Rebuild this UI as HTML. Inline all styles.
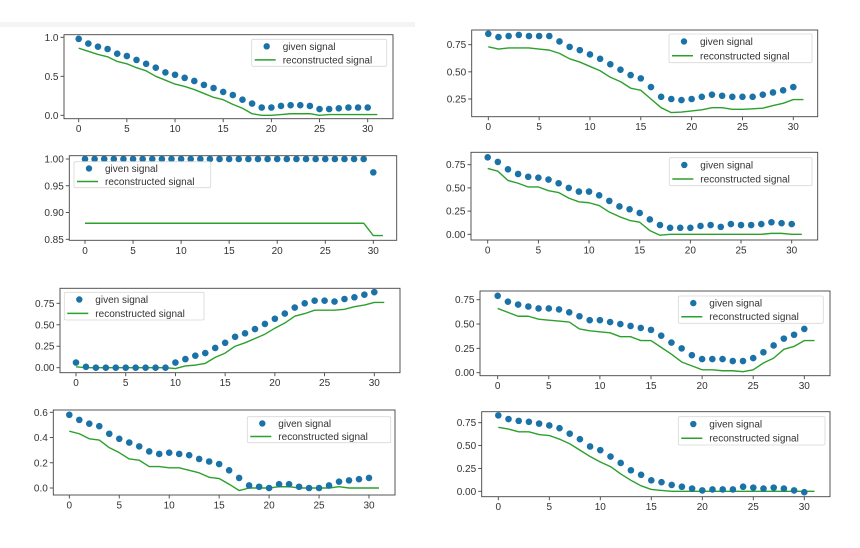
<!DOCTYPE html>
<html><head><meta charset="utf-8"><style>
html,body{margin:0;padding:0;background:#fff;}
svg{display:block;font-family:"Liberation Sans","DejaVu Sans",sans-serif;}
</style></head><body>
<svg id="fig" width="860" height="548" viewBox="0 0 860 548" xmlns="http://www.w3.org/2000/svg">
<rect x="0" y="0" width="860" height="548" fill="#fff"/>
<rect x="0" y="22" width="415" height="5" fill="#f4f4f4"/>
</svg>
<script>
// ---- data ----
const xTicks = [0,5,10,15,20,25,30];
const given1 = [0.98,0.92,0.88,0.85,0.79,0.76,0.71,0.66,0.61,0.55,0.52,0.48,0.44,0.39,0.35,0.30,0.26,0.20,0.15,0.10,0.10,0.12,0.13,0.13,0.12,0.08,0.08,0.09,0.10,0.10,0.10];
const recon1 = [0.86,0.82,0.78,0.75,0.69,0.66,0.61,0.57,0.50,0.45,0.40,0.37,0.33,0.28,0.23,0.20,0.14,0.09,0.02,0.00,0.00,0.01,0.02,0.02,0.02,0.00,0.01,0.01,0.01,0.01,0.01,0.01];
const ticks1 = ["0.0","0.5","1.0"];
const given2 = [0.85,0.82,0.83,0.84,0.83,0.83,0.83,0.78,0.73,0.70,0.66,0.62,0.57,0.52,0.47,0.44,0.36,0.27,0.25,0.24,0.25,0.27,0.29,0.28,0.27,0.27,0.27,0.29,0.31,0.33,0.36];
const recon2 = [0.73,0.71,0.72,0.72,0.72,0.71,0.70,0.67,0.62,0.59,0.55,0.51,0.45,0.41,0.35,0.33,0.25,0.17,0.125,0.13,0.14,0.15,0.17,0.17,0.155,0.155,0.16,0.165,0.19,0.21,0.245,0.245];
const ticks2 = ["0.25","0.50","0.75"];
const given3 = [1,1,1,1,1,1,1,1,1,1,1,1,1,1,1,1,1,1,1,1,1,1,1,1,1,1,1,1,1,1,0.975];
const recon3 = [0.88,0.88,0.88,0.88,0.88,0.88,0.88,0.88,0.88,0.88,0.88,0.88,0.88,0.88,0.88,0.88,0.88,0.88,0.88,0.88,0.88,0.88,0.88,0.88,0.88,0.88,0.88,0.88,0.88,0.88,0.857,0.857];
const ticks3 = ["0.85","0.90","0.95","1.00"];
const given4 = [0.83,0.78,0.70,0.65,0.62,0.61,0.59,0.55,0.50,0.46,0.46,0.42,0.36,0.30,0.27,0.23,0.16,0.10,0.07,0.07,0.07,0.09,0.10,0.08,0.11,0.10,0.10,0.11,0.13,0.12,0.11];
const recon4 = [0.71,0.68,0.58,0.55,0.51,0.51,0.47,0.45,0.39,0.35,0.34,0.31,0.24,0.19,0.15,0.13,0.04,-0.01,0,0,0,0,0,0,0,0,0,0,0.01,0.01,0,0];
const ticks4 = ["0.00","0.25","0.50","0.75"];
const given5 = [0.06,0.01,0,0,0,0,0,0,0,0,0.06,0.10,0.14,0.17,0.23,0.29,0.36,0.40,0.45,0.51,0.57,0.63,0.70,0.75,0.78,0.78,0.77,0.80,0.82,0.85,0.88];
const recon5 = [0.01,0,0,0,0,0,0,0,0,0,-0.01,0.02,0.03,0.05,0.12,0.17,0.25,0.29,0.34,0.39,0.46,0.52,0.60,0.63,0.67,0.67,0.67,0.68,0.71,0.73,0.76,0.76];
const ticks5 = ["0.00","0.25","0.50","0.75"];
const given6 = [0.79,0.73,0.70,0.68,0.66,0.66,0.65,0.62,0.58,0.54,0.54,0.52,0.50,0.48,0.46,0.44,0.38,0.31,0.25,0.18,0.14,0.14,0.14,0.12,0.12,0.15,0.21,0.28,0.35,0.39,0.45];
const recon6 = [0.66,0.62,0.58,0.58,0.55,0.54,0.53,0.52,0.45,0.43,0.42,0.41,0.37,0.37,0.33,0.33,0.26,0.19,0.11,0.07,0.03,0.03,0.02,0.02,0.01,0.03,0.10,0.15,0.24,0.27,0.33,0.33];
const ticks6 = ["0.00","0.25","0.50","0.75"];
const given7 = [0.58,0.54,0.51,0.49,0.43,0.39,0.36,0.33,0.29,0.27,0.28,0.27,0.26,0.23,0.21,0.19,0.14,0.08,0.02,0.01,0.00,0.03,0.03,0.01,0,0,0.02,0.05,0.06,0.07,0.08];
const recon7 = [0.45,0.43,0.39,0.38,0.32,0.28,0.23,0.22,0.17,0.17,0.16,0.16,0.14,0.12,0.085,0.075,0.03,-0.02,0,0,0,0.01,0.01,0,0,0,0,0.01,0,0,0,0];
const ticks7 = ["0.0","0.2","0.4","0.6"];
const given8 = [0.83,0.79,0.77,0.76,0.74,0.72,0.69,0.63,0.57,0.49,0.45,0.38,0.31,0.23,0.18,0.12,0.10,0.07,0.05,0.03,0.01,0.02,0.02,0.02,0.05,0.04,0.03,0.04,0.03,0.01,-0.01];
const recon8 = [0.70,0.68,0.65,0.65,0.62,0.61,0.57,0.52,0.45,0.38,0.32,0.27,0.19,0.12,0.06,0.02,0.01,0,0,0,0,0,0,0,0,0,0,0,0,0,0,0];
const ticks8 = ["0.00","0.25","0.50","0.75"];

// ---- layout (pixel geometry, not data) ----
const layouts = [
 {g:given1,r:recon1,t:ticks1,L:64,R:393,T:34.7,B:118.7,x0:78.7,x30:367.7,ya:[0,115.3],yb:[1,37.3],lg:[251.7,39.3,135,27]},
 {g:given2,r:recon2,t:ticks2,L:471.7,R:817.7,T:30,B:116.7,x0:488.3,x30:793.3,ya:[0.25,99],yb:[0.75,44.7],lg:[669,34,143,28.7]},
 {g:given3,r:recon3,t:ticks3,L:69.3,R:396.7,T:155.7,B:240.3,x0:85,x30:373.3,ya:[0.85,239.3],yb:[1,159],lg:[74,161.7,136.7,26]},
 {g:given4,r:recon4,t:ticks4,L:471,R:817.7,T:152.3,B:240,x0:487.7,x30:791.7,ya:[0,234.3],yb:[0.75,164.7],lg:[669.3,157.7,142.7,28]},
 {g:given5,r:recon5,t:ticks5,L:60,R:400,T:288.3,B:372.7,x0:76,x30:374.3,ya:[0,367.7],yb:[0.75,303.3],lg:[64.3,292.3,139.7,27.7]},
 {g:given6,r:recon6,t:ticks6,L:480,R:830,T:291,B:375.7,x0:497.7,x30:804.3,ya:[0,372.7],yb:[0.75,299.7],lg:[678.3,296,145,27.3]},
 {g:given7,r:recon7,t:ticks7,L:53.3,R:395,T:410,B:495,x0:69.3,x30:369,ya:[0,488],yb:[0.6,412.3],lg:[247.3,416.7,143.4,26]},
 {g:given8,r:recon8,t:ticks8,L:481.7,R:830,T:411.7,B:496.7,x0:498.3,x30:804.3,ya:[0,491.3],yb:[0.75,422.7],lg:[678.3,416.7,146.7,28.3]}
];

const NS = "http://www.w3.org/2000/svg";
const svg = document.getElementById('fig');
function mk(tag, attrs, parent){
  const e = document.createElementNS(NS, tag);
  for (const k in attrs) e.setAttribute(k, attrs[k]);
  (parent||svg).appendChild(e);
  return e;
}
const defs = mk('defs', {});
const BLUE = "#1a72a6", GREEN = "#2ca02c", INK = "#333";

layouts.forEach((p, i) => {
  const n = i + 1;
  const xs = v => p.x0 + (p.x30 - p.x0) * v / 30;
  const ys = v => p.ya[1] + (p.yb[1] - p.ya[1]) * (v - p.ya[0]) / (p.yb[0] - p.ya[0]);
  const grp = mk('g', {});
  
  

  const cp = mk('clipPath', {id: 'clip' + n}, defs);
  mk('rect', {x: p.L, y: p.T, width: p.R - p.L, height: p.B - p.T}, cp);

  const bg = mk('rect', {x: p.L, y: p.T, width: p.R - p.L, height: p.B - p.T, fill: '#fff'}, grp);
  
  

  const plot = mk('g', {'clip-path': 'url(#clip' + n + ')'}, grp);
  const d = p.r.map((v, k) => (k ? 'L' : 'M') + xs(k).toFixed(2) + ' ' + ys(v).toFixed(2)).join(' ');
  const line = mk('path', {d: d, fill: 'none', stroke: GREEN, 'stroke-width': 1.4, 'stroke-linejoin': 'round'}, plot);
  
  
  p.g.forEach((v, k) => {
    const c = mk('circle', {cx: xs(k).toFixed(2), cy: ys(v).toFixed(2), r: 3.3, fill: BLUE}, plot);
    
    
  });

  const fr = mk('rect', {x: p.L, y: p.T, width: p.R - p.L, height: p.B - p.T, fill: 'none', stroke: '#444', 'stroke-width': 0.9}, grp);
  
  

  xTicks.forEach(v => {
    const x = xs(v);
    mk('line', {x1: x, y1: p.B, x2: x, y2: p.B + 3.5, stroke: '#444', 'stroke-width': 0.9}, grp);
    const t = mk('text', {x: x, y: p.B + 13.5, 'font-size': 10, fill: INK, 'text-anchor': 'middle'}, grp);
    t.textContent = String(v);
    
    
  });
  p.t.forEach(s => {
    const y = ys(parseFloat(s));
    mk('line', {x1: p.L - 3.5, y1: y, x2: p.L, y2: y, stroke: '#444', 'stroke-width': 0.9}, grp);
    const t = mk('text', {x: p.L - 5.5, y: y + 3.5, 'font-size': 10, fill: INK, 'text-anchor': 'end'}, grp);
    t.textContent = s;
    
    
  });

  const [lx, ly, lw, lh] = p.lg;
  const lg = mk('g', {}, grp);
  
  
  mk('rect', {x: lx, y: ly, width: lw, height: lh, fill: 'rgba(255,255,255,0.85)', stroke: '#d8d8d8', 'stroke-width': 0.8, rx: 1.5}, lg);
  const r1 = ly + lh * 0.26, r2 = ly + lh * 0.76;
  const e1 = mk('g', {}, lg);
  
  
  mk('circle', {cx: lx + 15, cy: r1, r: 3.2, fill: BLUE}, e1);
  const t1 = mk('text', {x: lx + 31, y: r1 + 3.5, 'font-size': 10, fill: INK}, e1);
  t1.textContent = 'given signal';
  const e2 = mk('g', {}, lg);
  
  
  mk('line', {x1: lx + 3, y1: r2, x2: lx + 24, y2: r2, stroke: GREEN, 'stroke-width': 1.5}, e2);
  const t2 = mk('text', {x: lx + 31, y: r2 + 3.5, 'font-size': 10, fill: INK}, e2);
  t2.textContent = 'reconstructed signal';
});
</script>
</body></html>
